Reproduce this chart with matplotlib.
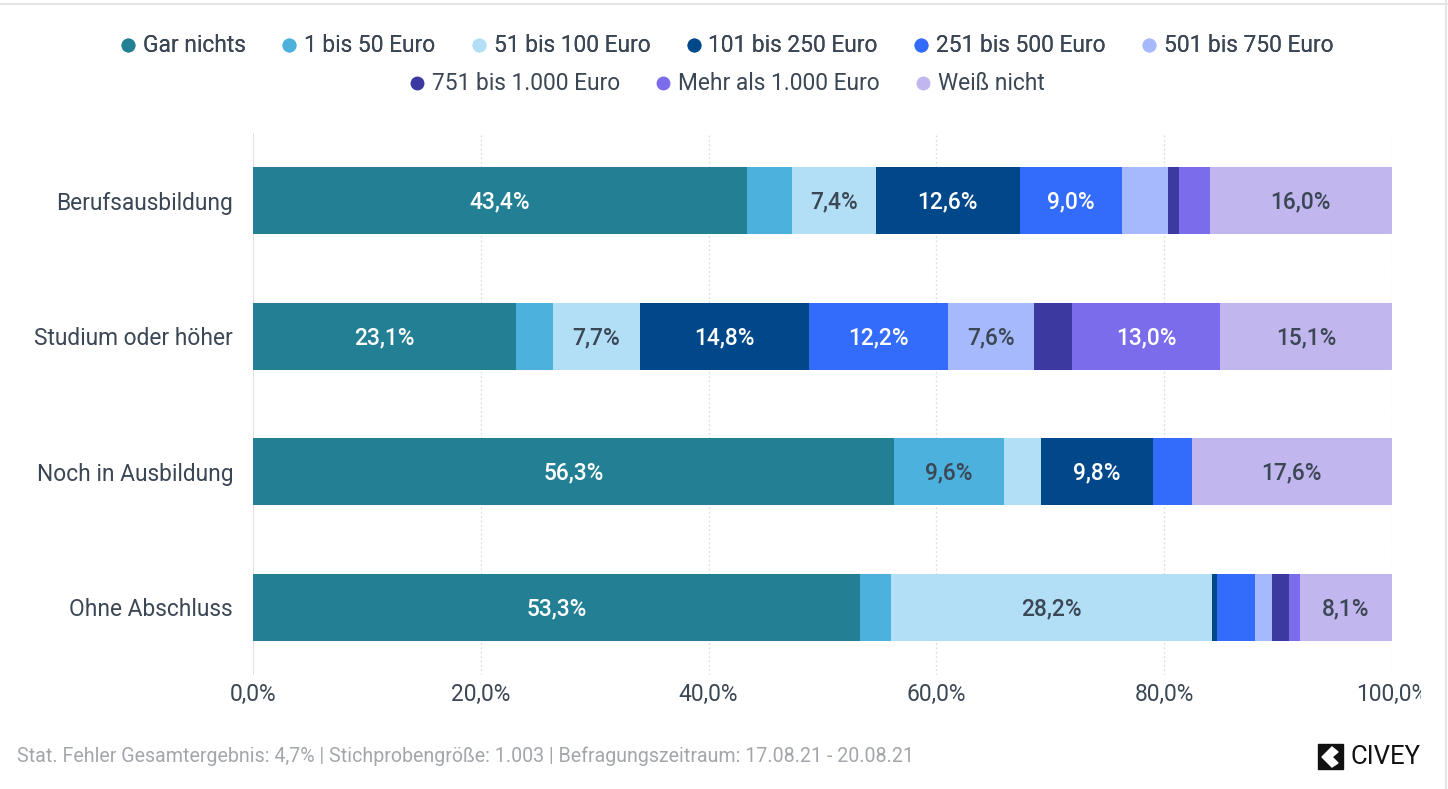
#!/usr/bin/env python3

import matplotlib.pyplot as plt
from matplotlib.lines import Line2D
from matplotlib.patches import Rectangle, Polygon
from matplotlib.transforms import Bbox
import numpy as np

plt.rcParams['font.family'] = ['Roboto', 'DejaVu Sans']

# rows (top to bottom)
groups = ["Berufsausbildung", "Studium oder höher", "Noch in Ausbildung", "Ohne Abschluss"]

series_names = ["Gar nichts", "1 bis 50 Euro", "51 bis 100 Euro", "101 bis 250 Euro",
                "251 bis 500 Euro", "501 bis 750 Euro", "751 bis 1.000 Euro",
                "Mehr als 1.000 Euro", "Weiß nicht"]

# values in % per series, one entry per group
gar_nichts   = [43.4, 23.1, 56.3, 53.3]
euro_1_50    = [3.9, 3.2, 9.6, 2.7]
euro_51_100  = [7.4, 7.7, 3.3, 28.2]
euro_101_250 = [12.6, 14.8, 9.8, 0.4]
euro_251_500 = [9.0, 12.2, 3.4, 3.4]
euro_501_750 = [4.0, 7.6, 0.0, 1.5]
euro_751_1000 = [1.0, 3.3, 0.0, 1.5]
mehr_1000    = [2.7, 13.0, 0.0, 0.9]
weiss_nicht  = [16.0, 15.1, 17.6, 8.1]

values = [gar_nichts, euro_1_50, euro_51_100, euro_101_250, euro_251_500,
          euro_501_750, euro_751_1000, mehr_1000, weiss_nicht]

colors = ["#227f94", "#4cb1dc", "#b3dff6", "#00488a", "#336cfb",
          "#a6b9fc", "#3c3aa0", "#7b6cec", "#c2b6ef"]
white_text = [True, False, False, True, True, False, True, True, False]

xticks = [0, 20, 40, 60, 80, 100]
footer = "Stat. Fehler Gesamtergebnis: 4,7% | Stichprobengröße: 1.003 | Befragungszeitraum: 17.08.21 - 20.08.21"

TXT = "#3b4754"
FS = 16.4

fig = plt.figure(figsize=(14.48, 7.89), dpi=100)
ax = fig.add_axes([253/1448, 1 - 675/789, (1392-253)/1448, (675-133)/789])

y = np.arange(len(groups))
left = np.zeros(len(groups))
for name, vals, col, wt in zip(series_names, values, colors, white_text):
    vals = np.array(vals)
    ax.barh(y, vals, left=left, height=0.495, color=col, zorder=3)
    for yi, v, l in zip(y, vals, left):
        if v >= 7:
            ax.text(l + v/2, yi + 0.01, f"{v:.1f}%".replace('.', ','), ha='center', va='center',
                    fontsize=FS, fontweight='medium', color='white' if wt else TXT, zorder=4)
    left += vals

ax.set_xlim(0, 100)
ax.set_ylim(3.5, -0.5)
ax.set_yticks(y)
ax.set_yticklabels(groups, fontsize=FS, color=TXT)
ax.set_xticks(xticks)
ax.set_xticklabels([f"{t:.1f}%".replace('.', ',') for t in xticks], fontsize=FS, color=TXT)
ax.tick_params(axis='x', length=0, pad=6)
ax.tick_params(axis='y', length=0, pad=14.4)
for s in ax.spines.values():
    s.set_visible(False)
for t in xticks[1:]:
    ax.axvline(t, color='#dddddd', linestyle=(0, (1.5, 2)), linewidth=0.9, zorder=1)
ax.axvline(0, color='#dddddd', linewidth=1.2, zorder=1)

# the last tick label is cut off by the frame in the original
last = ax.get_xticklabels()[-1]
last.set_clip_box(Bbox([[0, 0], [1421, 789]]))
last.set_clip_on(True)

# legend: two centered rows
handles = [Line2D([], [], marker='o', linestyle='', markersize=9, color=c) for c in colors]
leg1 = fig.legend(handles[:6], series_names[:6], loc='center', bbox_to_anchor=(0.5, 1 - 46/789),
                  ncol=6, frameon=False, fontsize=FS, handletextpad=0.05, columnspacing=1.3,
                  handlelength=1.2, labelcolor=TXT)
fig.legend(handles[6:], series_names[6:], loc='center', bbox_to_anchor=(0.5, 1 - 84/789),
           ncol=3, frameon=False, fontsize=FS, handletextpad=0.05, columnspacing=1.3,
           handlelength=1.2, labelcolor=TXT)
fig.add_artist(leg1)

fig.text(17/1448, 1 - 756/789, footer, fontsize=14.1, color='#a3a7ab', va='center', ha='left')

# logo
fig.patches.append(Rectangle((1318/1448, 1 - 769/789), 25/1448, 25/789,
                             transform=fig.transFigure, color='#111111', figure=fig))
fig.patches.append(Polygon([(1322/1448, 1 - 757/789), (1332/1448, 1 - 747/789),
                            (1338/1448, 1 - 752/789), (1332/1448, 1 - 757/789),
                            (1338/1448, 1 - 763/789), (1332/1448, 1 - 767/789)],
                           closed=True, transform=fig.transFigure, color='white', figure=fig))
fig.text(1350/1448, 1 - 757/789, "CIVEY", fontsize=18.5, color='#111111', va='center', ha='left')

# frame lines of the screenshot
fig.add_artist(Line2D([0, 1], [1 - 4/789, 1 - 4/789], transform=fig.transFigure, color='#e6e6e6', linewidth=1.5))
fig.add_artist(Line2D([1446/1448, 1446/1448], [0, 1], transform=fig.transFigure, color='#e6e6e6', linewidth=1.5))

fig.savefig("out.png", dpi=100)
